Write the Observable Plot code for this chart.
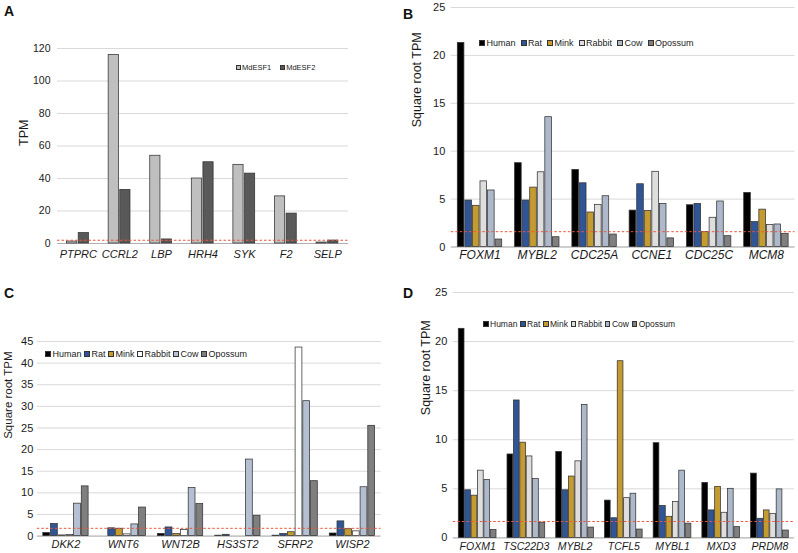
<!DOCTYPE html>
<html><head><meta charset="utf-8">
<script src="https://cdn.jsdelivr.net/npm/d3@7"></script>
<script src="https://cdn.jsdelivr.net/npm/@observablehq/plot@0.6"></script>
<style>
body{margin:0;background:#fff;font-family:Arial,"Liberation Sans",sans-serif;}
#page{position:relative;width:798px;height:553px;overflow:hidden;background:#fff;}
.panel{position:absolute;}
.panel svg{position:absolute;left:0;top:0;}
.letter{position:absolute;font-weight:bold;font-size:14px;line-height:14px;color:#111;}
.legend{position:absolute;display:flex;align-items:center;white-space:nowrap;color:#222;}
.legend .item{display:flex;align-items:center;}
.legend .sw{display:inline-block;box-sizing:border-box;border:0.8px solid #333;}
</style></head><body><div id="page"></div>
<script>
// ---- Panel A ----
const aGenes = ["PTPRC","CCRL2","LBP","HRH4","SYK","F2","SELP"];
const aMdESF1 = [1.2, 116, 54, 40, 48.4, 29, 0.6];
const aMdESF2 = [6.4, 33, 2.5, 50, 43, 18.4, 1.8];
const aTicks = [0,20,40,60,80,100,120];
const aThreshold = 2;

// ---- Panel B ----
const bGenes = ["FOXM1","MYBL2","CDC25A","CCNE1","CDC25C","MCM8"];
const bHuman   = [21.3, 8.75, 8.05, 3.8, 4.36, 5.65];
const bRat     = [4.85, 4.85, 6.65, 6.55, 4.5, 2.6];
const bMink    = [4.3, 6.2, 3.6, 3.75, 1.55, 3.9];
const bRabbit  = [6.85, 7.8, 4.4, 7.85, 3.05, 2.3];
const bCow     = [5.9, 13.55, 5.3, 4.5, 4.75, 2.35];
const bOpossum = [0.78, 1.02, 1.3, 0.9, 1.13, 1.38];
const bTicks = [0,5,10,15,20,25];
const bThreshold = 1.6;

// ---- Panel C ----
const cGenes = ["DKK2","WNT6","WNT2B","HS3ST2","SFRP2","WISP2"];
const cHuman   = [0.7, 0, 0.5, 0.1, 0.1, 0.6];
const cRat     = [2.8, 1.8, 2.0, 0.3, 0.5, 3.4];
const cMink    = [0.15, 1.7, 0.5, 0, 0.9, 1.6];
const cRabbit  = [0.25, 0.4, 1.4, 0, 43.6, 1.1];
const cCow     = [7.5, 2.7, 11.1, 17.7, 31.2, 11.3];
const cOpossum = [11.5, 6.6, 7.4, 4.7, 12.7, 25.5];
const cTicks = [0,5,10,15,20,25,30,35,40,45];
const cThreshold = 1.8;

// ---- Panel D ----
const dGenes = ["FOXM1","TSC22D3","MYBL2","TCFL5","MYBL1","MXD3","PRDM8"];
const dHuman   = [21.3, 8.5, 8.75, 3.8, 9.65, 5.6, 6.55];
const dRat     = [4.85, 14.0, 4.85, 2.0, 3.25, 2.8, 1.95];
const dMink    = [4.3, 9.7, 6.25, 18.0, 2.15, 5.2, 2.8];
const dRabbit  = [6.85, 8.3, 7.8, 4.05, 3.65, 2.56, 2.45];
const dCow     = [5.9, 6.0, 13.55, 4.5, 6.85, 5.0, 4.94];
const dOpossum = [0.8, 1.55, 1.05, 0.85, 1.45, 1.1, 0.75];
const dTicks = [0,5,10,15,20,25];
const dThreshold = 1.67;

const speciesNames = ["Human","Rat","Mink","Rabbit","Cow","Opossum"];
const speciesColors = ["#000000","#2f5597","#c49b30","#dedede","#adb9ca","#7f7f7f"];
const speciesColorsC = ["#000000","#2f5597","#c49b30","#ffffff","#b4c0d2","#7f7f7f"];

const page = document.getElementById("page");

function drawPanel(cfg) {
  const wrap = document.createElement("div");
  wrap.className = "panel";
  wrap.style.left = cfg.left + "px";
  wrap.style.top = cfg.top + "px";
  wrap.style.width = cfg.width + "px";
  wrap.style.height = cfg.height + "px";
  const band = (cfg.width - cfg.ml - cfg.mr) / cfg.genes.length;
  const marks = [
    Plot.gridY(cfg.ticks, {stroke: "#d9d9d9", strokeOpacity: 1, strokeWidth: 1}),
    Plot.ruleY([0], {stroke: "#b0b0b0", strokeWidth: 1})
  ];
  cfg.series.forEach((s, i) => {
    const rows = cfg.genes.map((g, j) => ({gene: g, value: s.values[j]})).filter(d => d.value > 0);
    const il = cfg.L + i * cfg.step;
    marks.push(Plot.barY(rows, {
      x: "gene", y: "value", fill: s.color, stroke: "#333", strokeWidth: 0.75,
      insetLeft: il, insetRight: band - il - cfg.barW
    }));
  });
  marks.push(Plot.ruleY([cfg.threshold], {stroke: "#e8573f", strokeDasharray: "2.5,2", strokeWidth: 1}));
  marks.push(Plot.axisY({ticks: cfg.ticks, tickSize: 0, tickPadding: cfg.yPad, fontSize: cfg.yFont, label: null}));
  marks.push(Plot.axisX({tickSize: 0, tickPadding: cfg.xPad, fontSize: cfg.xFont, fontStyle: "italic", label: null}));
  marks.push(Plot.text([cfg.yLabel], {text: d => d, frameAnchor: "left", rotate: -90, dx: cfg.labelDx, fontSize: cfg.labelFont}));
  const svg = Plot.plot({
    width: cfg.width, height: cfg.height,
    marginLeft: cfg.ml, marginRight: cfg.mr, marginTop: cfg.mt, marginBottom: cfg.mb,
    x: {type: "band", domain: cfg.genes, padding: 0, round: false, axis: null},
    y: {domain: [0, cfg.ticks[cfg.ticks.length - 1]], axis: null},
    style: {fontFamily: "Arial, 'Liberation Sans', sans-serif", color: "#1a1a1a", background: "transparent", overflow: "visible"},
    marks
  });
  wrap.appendChild(svg);
  page.appendChild(wrap);

  // panel letter
  const let_ = document.createElement("div");
  let_.className = "letter";
  let_.textContent = cfg.letter;
  let_.style.left = cfg.letterPos[0] + "px";
  let_.style.top = cfg.letterPos[1] + "px";
  page.appendChild(let_);

  // legend
  const lg = document.createElement("div");
  lg.className = "legend";
  lg.style.left = cfg.legend.x + "px";
  lg.style.top = (cfg.legend.y - 8) + "px";
  lg.style.height = "16px";
  lg.style.fontSize = cfg.legend.font + "px";
  lg.style.gap = cfg.legend.spacing + "px";
  cfg.series.forEach(s => {
    const it = document.createElement("span");
    it.className = "item";
    const sw = document.createElement("span");
    sw.className = "sw";
    sw.style.width = cfg.legend.sw + "px";
    sw.style.height = cfg.legend.sw + "px";
    sw.style.background = s.color;
    sw.style.marginRight = cfg.legend.gap + "px";
    it.appendChild(sw);
    it.appendChild(document.createTextNode(s.name));
    lg.appendChild(it);
  });
  page.appendChild(lg);
}

function speciesSeries(values, colors) {
  return speciesNames.map((n, i) => ({name: n, color: colors[i], values: values[i]}));
}

drawPanel({
  letter: "A", letterPos: [4, 4],
  left: 0, top: 0, width: 400, height: 276, ml: 57, mr: 52, mt: 48, mb: 33,
  genes: aGenes, ticks: aTicks, threshold: aThreshold,
  series: [{name: "MdESF1", color: "#bfbfbf", values: aMdESF1}, {name: "MdESF2", color: "#595959", values: aMdESF2}],
  L: 9.6, step: 11.6, barW: 10.2,
  yPad: 7, yFont: 10.5, xPad: 6.5, xFont: 11, yLabel: "TPM", labelDx: -34, labelFont: 12.5,
  legend: {x: 236, y: 67, font: 7.5, sw: 5, gap: 1, spacing: 9}
});

drawPanel({
  letter: "B", letterPos: [403, 7],
  left: 400, top: 0, width: 398, height: 276, ml: 50.8, mr: 3.5, mt: 7, mb: 29.5,
  genes: bGenes, ticks: bTicks, threshold: bThreshold,
  series: speciesSeries([bHuman, bRat, bMink, bRabbit, bCow, bOpossum], speciesColors),
  L: 6.5, step: 7.56, barW: 6.6,
  yPad: 6, yFont: 11, xPad: 3.5, xFont: 12, yLabel: "Square root TPM", labelDx: -34, labelFont: 12.5,
  legend: {x: 479, y: 43, font: 9, sw: 6, gap: 1.5, spacing: 5}
});

drawPanel({
  letter: "C", letterPos: [4, 286],
  left: 0, top: 276, width: 400, height: 277, ml: 36.8, mr: 19.4, mt: 65, mb: 17.4,
  genes: cGenes, ticks: cTicks, threshold: cThreshold,
  series: speciesSeries([cHuman, cRat, cMink, cRabbit, cCow, cOpossum], speciesColorsC),
  L: 6, step: 7.7, barW: 6.8,
  yPad: 4, yFont: 11, xPad: 4.5, xFont: 11, yLabel: "Square root TPM", labelDx: -29.3, labelFont: 11.5,
  legend: {x: 45, y: 354, font: 9, sw: 6, gap: 1.5, spacing: 2.5}
});

drawPanel({
  letter: "D", letterPos: [403, 286],
  left: 400, top: 276, width: 398, height: 277, ml: 52.8, mr: 4.2, mt: 16, mb: 15.6,
  genes: dGenes, ticks: dTicks, threshold: dThreshold,
  series: speciesSeries([dHuman, dRat, dMink, dRabbit, dCow, dOpossum], speciesColors),
  L: 5.5, step: 6.4, barW: 5.7,
  yPad: 6, yFont: 11, xPad: 4.3, xFont: 10.5, yLabel: "Square root TPM", labelDx: -27, labelFont: 12.5,
  legend: {x: 483, y: 324, font: 8.5, sw: 5.5, gap: 1.5, spacing: 2.7}
});
</script>
</body></html>
